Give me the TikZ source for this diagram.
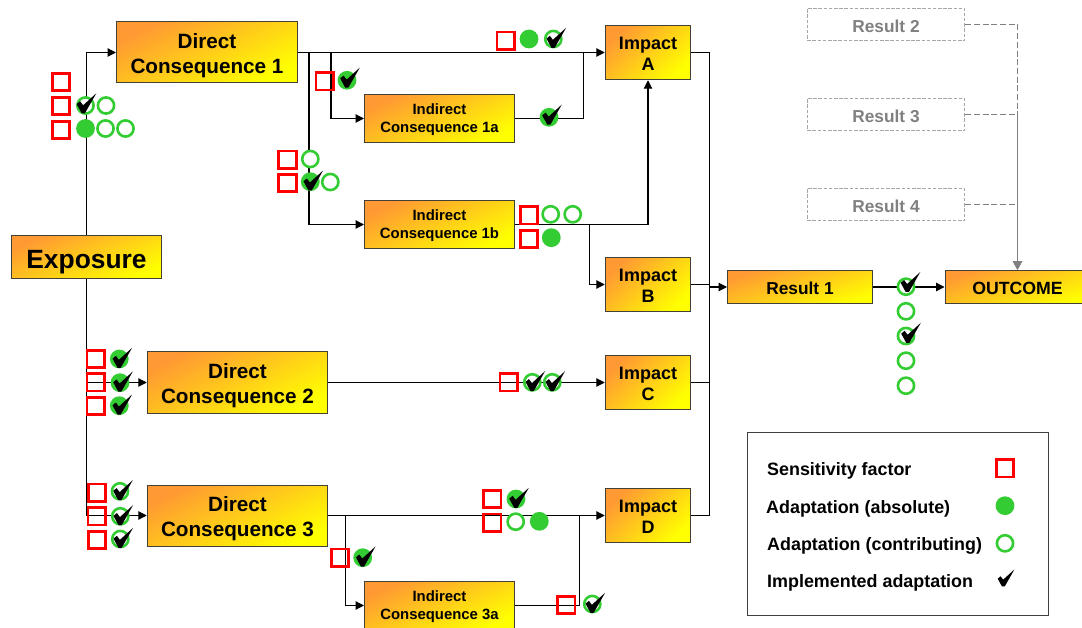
\documentclass[tikz,border=0pt]{standalone}
\usepackage{fontspec}
\setmainfont{Liberation Sans}
\usetikzlibrary{arrows.meta}
\definecolor{boxorange}{HTML}{FF9933}
\definecolor{boxyellow}{HTML}{FFFF00}
\definecolor{symgreen}{HTML}{33CC33}
\definecolor{dashgray}{HTML}{808080}
\definecolor{edgegray}{HTML}{A6A6A6}
\newcommand{\fnt}[2]{\fontsize{#1}{#2}\selectfont\bfseries}
\tikzset{
  lift/.style={execute at begin node={\rule{0pt}{#1pt}}},
  gbox/.style={draw=black!85!yellow,line width=1pt,left color=boxorange,right color=boxyellow,
     inner sep=0pt,align=center,text=black},
  exbox/.style={gbox,shading angle=23.5,minimum width=150pt,minimum height=43.5pt,font=\fnt{26.4}{30},lift=28},
  dirbox/.style={gbox,shading angle=26.7,minimum width=181pt,minimum height=61pt,font=\fnt{20.7}{25},lift=46},
  indbox/.style={gbox,shading angle=25.4,minimum width=150pt,minimum height=47.5pt,font=\fnt{14.9}{18},lift=32},
  impbox/.style={gbox,shading angle=43.7,minimum width=85.5pt,minimum height=54.5pt,font=\fnt{18}{21},lift=36},
  resbox/.style={gbox,shading angle=19,minimum width=145pt,minimum height=33.5pt,font=\fnt{17.3}{20},lift=14.6},
  outbox/.style={gbox,shading angle=19,minimum width=145pt,minimum height=33.5pt,font=\fnt{17.7}{20},lift=14.9},
  ghostbox/.style={draw=edgegray,line width=1.1pt,dash pattern=on 3.5pt off 1.7pt,minimum width=157.5pt,minimum height=32.5pt,
     inner sep=0pt,text=dashgray,font=\fnt{17.3}{20},lift=16.6},
  link/.style={draw=black,line width=1.1pt},
  arr/.style={link,-{Triangle[length=8.5pt,width=8.5pt]}},
  ghostlink/.style={draw=dashgray,line width=1.3pt,dash pattern=on 6pt off 2.7pt,-{Triangle[length=8.5pt,width=9pt]}},
  sensbox/.style={draw=red,line width=2.7pt,minimum size=17.5pt,inner sep=0pt},
  absdot/.style={circle,fill=symgreen,minimum size=18.8pt,inner sep=0pt},
  condot/.style={circle,draw=symgreen,fill=white,line width=2.6pt,minimum size=16.2pt,inner sep=0pt},
  legtext/.style={anchor=west,inner sep=0pt,font=\fnt{17.9}{20}},
  chk/.pic={\fill[black] (-6.8,-0.4) -- (-3.4,-3.2) -- (-0.4,0.8) -- (12.8,-11.2) -- (1.4,8.8) -- (-1.8,8.8) -- cycle;}
}
\begin{document}
\begin{tikzpicture}[x=1pt,y=-1pt]
\useasboundingbox (0,0) rectangle (1082,628);
\clip (0,0) rectangle (1082,628);
% boxes
\node[exbox] (ex) at (86.5,257) {Exposure};
\node[dirbox] (d1) at (207,52.5) {Direct\\Consequence 1};
\node[dirbox,minimum width=180.5pt] (d2) at (237.5,382.5) {Direct\\Consequence 2};
\node[dirbox,minimum width=180.5pt] (d3) at (237.5,515.5) {Direct\\Consequence 3};
\node[indbox] (i1a) at (439.5,118.5) {Indirect\\Consequence 1a};
\node[indbox] (i1b) at (439.5,224.5) {Indirect\\Consequence 1b};
\node[indbox] (i3a) at (439.5,605.5) {Indirect\\Consequence 3a};
\node[impbox] (ia) at (648,52.5) {Impact\\A};
\node[impbox] (ib) at (648,284.5) {Impact\\B};
\node[impbox] (ic) at (648,382.5) {Impact\\C};
\node[impbox] (id) at (648,515.5) {Impact\\D};
\node[resbox] (r1) at (800,287) {Result 1};
\node[outbox] (oc) at (1017.5,287) {OUTCOME};
\node[ghostbox] (r2) at (886,24.5) {Result 2};
\node[ghostbox] (r3) at (886,114.5) {Result 3};
\node[ghostbox] (r4) at (886,204.5) {Result 4};
\node[draw=black!75,line width=1pt,minimum width=301.5pt,minimum height=183.5pt,inner sep=0pt] (leg) at (898,524) {};
% junction points
\coordinate (b1) at (309,52.5);
\coordinate (b2) at (331,52.5);
\coordinate (j1) at (583.5,52.5);
\coordinate (j2) at (589.5,224.5);
\coordinate (bt) at (709.5,52.5);
\coordinate (bb) at (709.5,515.5);
\coordinate (bm) at (709.5,287);
\coordinate (b3) at (345.5,515.5);
\coordinate (j3) at (579.5,515.5);
% connectors
\draw[arr] (ex.north) |- (d1.west);
\draw[arr] (ex.south) |- (d2.west);
\draw[arr] (ex.south) |- (d3.west);
\draw[arr] (d1.east) -- (ia.west);
\draw[arr] (b1) |- (i1b.west);
\draw[arr] (b2) |- (i1a.west);
\draw[link] (i1a.east) -| (j1);
\draw[arr] (i1b.east) -| (ia.south);
\draw[arr] (j2) |- (ib.west);
\draw[arr] (d2.east) -- (ic.west);
\draw[arr] (d3.east) -- (id.west);
\draw[arr] (b3) |- (i3a.west);
\draw[link] (i3a.east) -| (j3);
\draw[link] (ia.east) -- (bt) -- (bb) -- (id.east);
\draw[link] (ib.east) -- (ib.east -| bt);
\draw[link] (ic.east) -- (ic.east -| bt);
\draw[arr] (bm) -- (r1.west);
\draw[arr] (r1.east) -- (oc.west);
\draw[ghostlink] (r2.east) -| (oc.north);
\draw[ghostlink] (r3.east) -| (oc.north);
\draw[ghostlink] (r4.east) -| (oc.north);
% sensitivity factors
\foreach \x/\y [count=\i] in {61/82,61/106,61/130,324.7/81.3,287.5/159.7,287.5/183,505.7/40.7,529/215.3,529/239,
   95.7/359,95.7/382.3,95.7/406,97/492.7,96.7/516.3,97/540,340/557.7,508.7/382.3,492.3/499,492.3/522.7,566.3/605,1005/468.3}
  \node[sensbox] (sf\i) at (\x,\y) {};
% absolute adaptation
\foreach \x/\y [count=\i] in {85.5/128.5,529/39,551.3/237.7,539.3/521.3,1005/505.7}
  \node[absdot] (aa\i) at (\x,\y) {};
% contributing adaptation
\foreach \x/\y [count=\i] in {106/105.5,105.5/128.5,125.5/128.5,310.3/159,330.3/182,550.7/214.3,572.7/214.3,
   906/311.3,906/360.7,906/385.7,515.7/521.7,1005/543.3}
  \node[condot] (ca\i) at (\x,\y) {};
% implemented absolute
\foreach \x/\y/\dx/\dy [count=\i] in {347/80.3/0/-1.5,310.3/181.7/0/0,549/117.3/0/-1.5,119.3/359/0/0,120/382.7/0/0,119.3/405.7/0/0,362.7/557.7/0/0,516/499/0/0}{
  \node[absdot] (ia\i) at (\x,\y) {};
  \pic at ({\x+\dx},{\y+\dy}) {chk};
}
% implemented contributing
\foreach \x/\y/\dx/\dy [count=\i] in {85.5/105.5/-2/-1,553.3/39/0/0,906/286.7/1.5/-3.5,906/336/2/-2,120/491.3/0/0,120.3/516.3/0/0,120.3/539/0/0,532.3/382.3/0/0,552.3/382.3/0/0,592.3/604/0/0}{
  \node[condot] (ic\i) at (\x,\y) {};
  \pic at ({\x+\dx},{\y+\dy}) {chk};
}
% legend
\node[legtext] (l1) at (767,471) {Sensitivity factor};
\node[legtext] (l2) at (766,509) {Adaptation (absolute)};
\node[legtext] (l3) at (767,546) {Adaptation (contributing)};
\node[legtext] (l4) at (767,583) {Implemented adaptation};
\pic[scale=.85] at (1003.5,579) {chk};
\end{tikzpicture}
\end{document}
